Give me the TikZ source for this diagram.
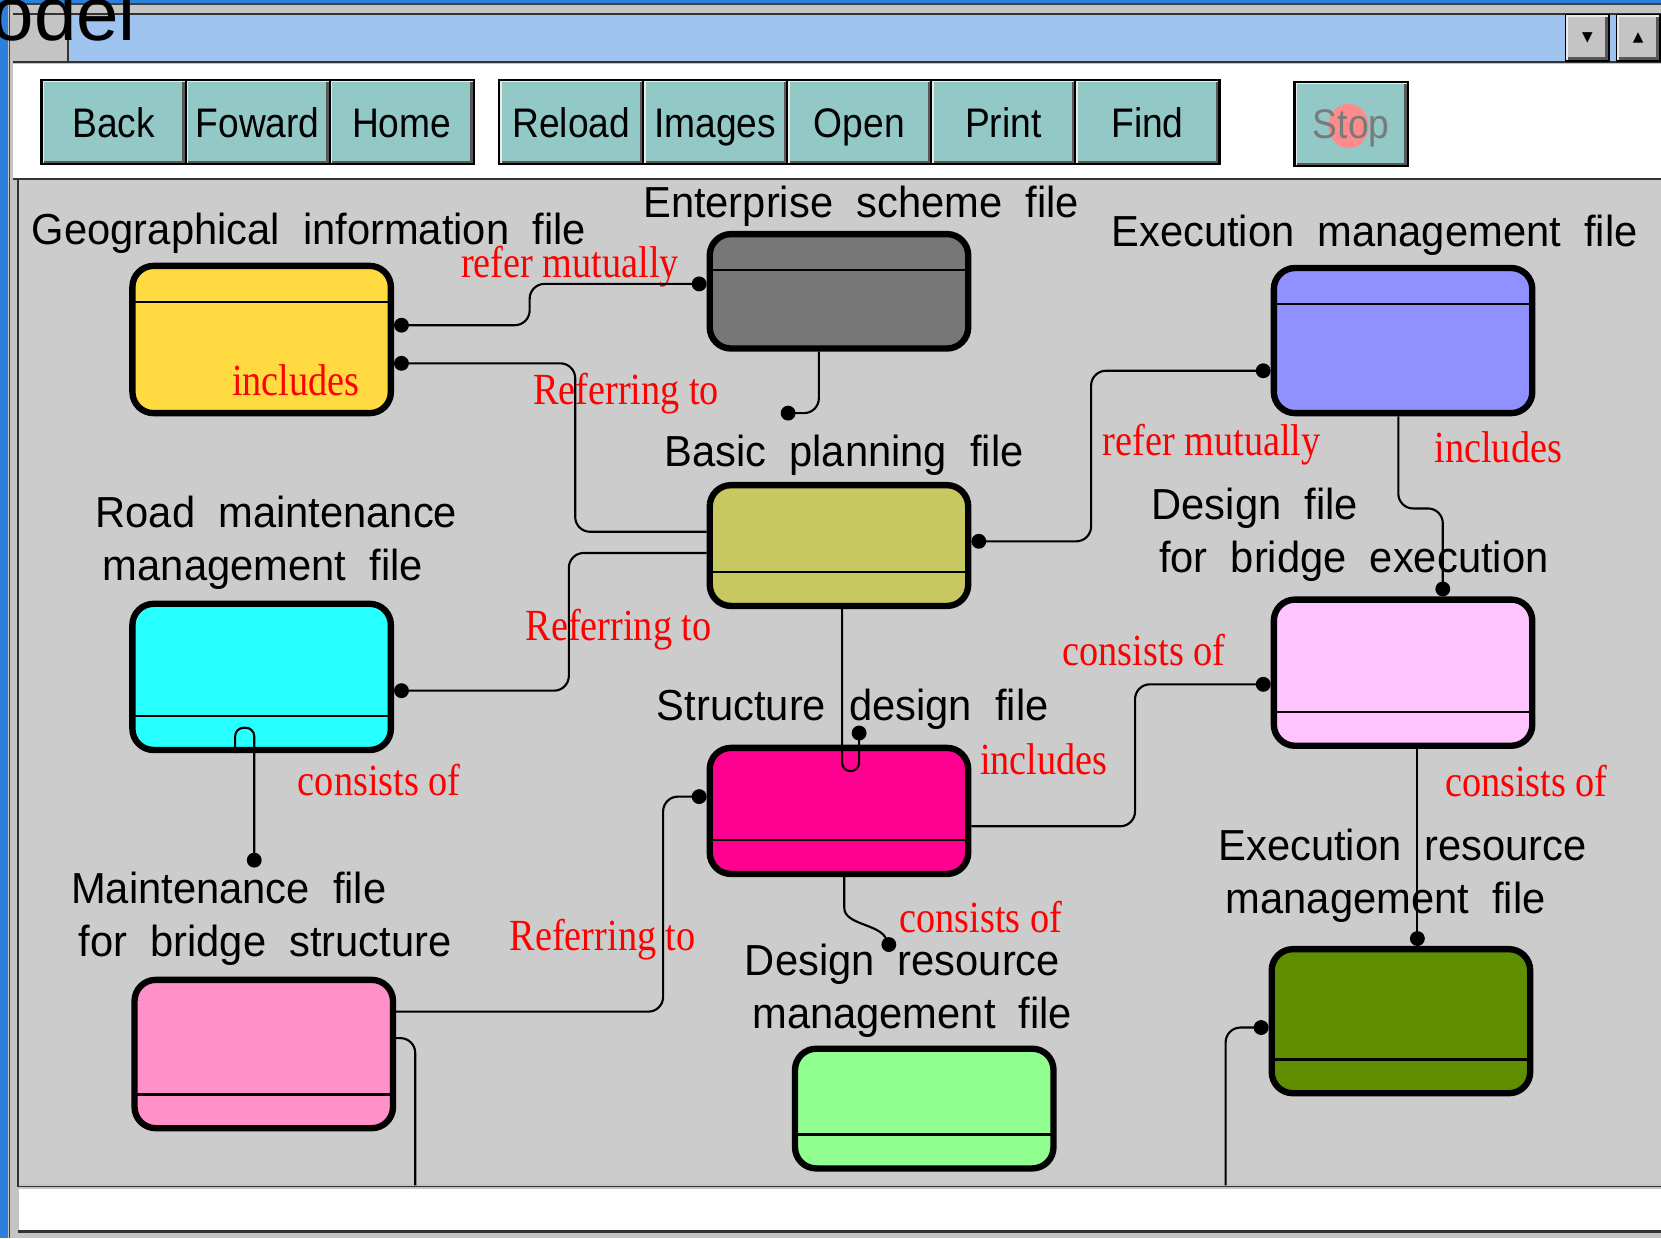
\documentclass[tikz,border=0pt]{standalone}
\usepackage{fontspec}
\usepackage{xcolor}
\usepackage{tikz}
\usetikzlibrary{matrix,arrows.meta}
\newfontfamily\uifont[FakeStretch=0.96,WordSpace=2]{Liberation Sans}
\newfontfamily\btnfont[FakeStretch=0.9]{Liberation Sans}
\newfontfamily\relfont[FakeStretch=0.86]{Liberation Serif}
\newfontfamily\bigfont{Liberation Sans}
\newfontfamily\symfont{DejaVu Sans}
\definecolor{winblue}{HTML}{2B80DB}
\definecolor{titleblue}{HTML}{9DC3EE}
\definecolor{framegrey}{HTML}{C4C4C4}
\definecolor{canvasgrey}{HTML}{CCCCCC}
\definecolor{btnteal}{HTML}{92C8C6}
\definecolor{bevlight}{HTML}{EAEAEA}
\definecolor{bevdark}{HTML}{585858}
\definecolor{stoppink}{HTML}{FF8C8C}
\definecolor{stopgrey}{HTML}{7A7A7A}
\definecolor{relred}{HTML}{FF0000}
\definecolor{geoyellow}{HTML}{FFDA40}
\definecolor{entgrey}{HTML}{777777}
\definecolor{exmblue}{HTML}{9090FF}
\definecolor{basolive}{HTML}{C8C860}
\definecolor{roadcyan}{HTML}{28FFFF}
\definecolor{dsgpink}{HTML}{FFC4FF}
\definecolor{strmag}{HTML}{FF0090}
\definecolor{mntpink}{HTML}{FF90C8}
\definecolor{drmgreen}{HTML}{90FF90}
\definecolor{ermgreen}{HTML}{5F8E00}

\begin{document}
\begin{tikzpicture}[x=1pt, y=-1pt,
  bevel/.style={path picture={
    \draw[line width=7pt, bevdark] (path picture bounding box.south west) -- (path picture bounding box.south east) -- (path picture bounding box.north east);
    \draw[line width=5pt, bevlight] (path picture bounding box.south west) -- (path picture bounding box.north west) -- (path picture bounding box.north east);}},
  tbbtn/.style={bevel, draw=black, line width=2pt, fill=btnteal, minimum width=136pt, minimum height=80pt, inner sep=0pt, text height=36pt, text depth=6pt, font=\btnfont\fontsize{39}{40}\selectfont},
  scrollbtn/.style={bevel, draw=black, line width=1.5pt, fill=framegrey, minimum width=41pt, minimum height=44pt, inner sep=0pt, font=\symfont\fontsize{13}{13}\selectfont},
  filebox/.style={draw=black, line width=6pt, rounded corners=20pt, minimum width=244pt, inner sep=0pt},
  topline/.style={filebox, path picture={\draw[line width=2.5pt] ([yshift=-34pt]path picture bounding box.north west) -- ([yshift=-34pt]path picture bounding box.north east);}},
  botline/.style={filebox, path picture={\draw[line width=2.5pt] ([yshift=32pt]path picture bounding box.south west) -- ([yshift=32pt]path picture bounding box.south east);}},
  filelbl/.style={font=\uifont\fontsize{41}{50}\selectfont, anchor=base west, inner sep=0pt, align=left},
  rellbl/.style={font=\relfont\fontsize{42}{44}\selectfont, text=relred, anchor=base west, inner sep=0pt},
  link/.style={line width=2pt, rounded corners=14pt},
  dotend/.style={link, -{Circle[length=14pt]}},
  dotstart/.style={link, {Circle[length=14pt]}-},
  dotboth/.style={link, {Circle[length=14pt]}-{Circle[length=14pt]}}]
\useasboundingbox (0,0) rectangle (1568,1169);
% window frame
\fill[winblue] (0,0) rectangle (1568,1169);
\fill[framegrey] (8,3) rectangle (1568,1169);
\draw[line width=1.5pt, black!75] (9,3) -- (9,1169) (8,4) -- (1568,4);
\fill[titleblue] (12,13) rectangle (1568,58);
\fill[framegrey] (12,13) rectangle (64,58);
\draw[line width=1.5pt, black!80] (12,13) -- (1568,13) (12,58.5) -- (1568,58.5) (64,13) -- (64,58);
\fill[white] (12,60) rectangle (1568,168);
\draw[line width=2pt, black!80] (12,169) -- (1568,169);
\fill[canvasgrey] (18,170) rectangle (1568,1118);
\draw[line width=1.5pt, black!80] (17,170) -- (17,1120) -- (1568,1120);
\fill[white] (18,1122) rectangle (1568,1161);
\draw[line width=2pt, black!80] (17,1162.5) -- (1568,1162.5);
\node[font=\bigfont\fontsize{72}{72}\selectfont, anchor=base west, inner sep=0pt] (wintitle) at (-8,38) {odel};
\node[scrollbtn] (downbtn) at (1498.5,35.5) {▼};
\node[scrollbtn] (upbtn) at (1546.5,35.5) {▲};

% toolbar
\matrix[matrix of nodes, nodes={tbbtn}, column sep=-2pt, inner sep=0pt, anchor=north west] (navbtns) at (38,74) {
 Back & Foward & Home \\
};
\matrix[matrix of nodes, nodes={tbbtn}, column sep=-2pt, inner sep=0pt, anchor=north west] (filebtns) at (470,74) {
 Reload & Images & Open & Print & Find \\
};
\node[tbbtn, minimum width=107pt] (stopbtn) at (1275.5,117) {};
\fill[stoppink] (1273,119) ellipse [x radius=19, y radius=21];
\node[font=\btnfont\fontsize{39}{40}\selectfont, text=stopgrey, inner sep=0pt, anchor=base] (stoptxt) at ([yshift=-14pt]stopbtn.center) {Stop};

% files
\node[topline, fill=geoyellow, minimum height=139pt] (geo) at (247,320.5) {};
\node[topline, fill=entgrey, minimum height=108pt] (ent) at (792,275) {};
\node[topline, fill=exmblue, minimum height=137pt] (exm) at (1324.5,321.5) {};
\node[botline, fill=basolive, minimum height=114pt] (bas) at (792,515) {};
\node[botline, fill=roadcyan, minimum height=138pt] (road) at (247,639) {};
\node[botline, fill=dsgpink, minimum height=138pt] (dsg) at (1324.5,635) {};
\node[botline, fill=strmag, minimum height=119pt] (str) at (792,765.5) {};
\node[botline, fill=mntpink, minimum height=140pt] (mnt) at (249,995) {};
\node[botline, fill=drmgreen, minimum height=113pt] (drm) at (872.5,1046.5) {};
\node[botline, fill=ermgreen, minimum height=136pt] (erm) at (1322.5,964) {};

% names (multi-line names sit on their last baseline)
\node[filelbl] (geolbl) at (30,231) {Geographical information file};
\node[filelbl] (entlbl) at (607,205) {Enterprise scheme file};
\node[filelbl] (exmlbl) at (1049,233) {Execution management file};
\node[filelbl] (baslbl) at (627,440) {Basic planning file};
\node[filelbl] (roadlbl) at (90,548) {Road maintenance\\\hspace*{7pt}management file};
\node[filelbl] (dsglbl) at (1087,540) {Design file\\\hspace*{7pt}for bridge execution};
\node[filelbl] (strlbl) at (620,680) {Structure design file};
\node[filelbl] (mntlbl) at (67,903) {Maintenance file\\\hspace*{7pt}for bridge structure};
\node[filelbl] (drmlbl) at (703,971) {Design resource\\\hspace*{7pt}management file};
\node[filelbl] (ermlbl) at (1150,862) {Execution resource\\\hspace*{7pt}management file};

\node[rellbl] (rel1) at (435,262) {refer mutually};
\node[rellbl] (rel2) at (219,373) {includes};
\node[rellbl] (rel3) at (503,382) {Referring to};
\node[rellbl] (rel4) at (1041,430) {refer mutually};
\node[rellbl] (rel5) at (1354,437) {includes};
\node[rellbl] (rel6) at (496,605) {Referring to};
\node[rellbl] (rel7) at (1003,628) {consists of};
\node[rellbl] (rel8) at (925,731) {includes};
\node[rellbl] (rel9) at (281,751) {consists of};
\node[rellbl] (rel10) at (1364,752) {consists of};
\node[rellbl] (rel11) at (481,897) {Referring to};
\node[rellbl] (rel12) at (849,880) {consists of};

% links
\coordinate (entend) at (737,390);
\coordinate (strend) at (811,685);
\coordinate (mntend) at (240,819);
\coordinate (drmend) at (842,898);
\coordinate (mntoff) at (392,1119);
\coordinate (ermoff) at (1157,1119);
\draw[dotboth] ([yshift=13.5pt]geo.east) -- ++(128,0) |- ([yshift=7pt]ent.west);
\draw[dotstart] ([yshift=-22.5pt]geo.east) -- ++(171,0) |- ([yshift=13pt]bas.west);
\draw[dotend] ([xshift=-19pt]ent.south) |- (entend);
\draw[dotend] ([yshift=-7pt]bas.west) -- ++(-130,0) |- ([yshift=-13pt]road.east);
\draw[dotboth] ([yshift=4pt]bas.east) -- ++(113,0) |- ([yshift=-28.5pt]exm.west);
\draw[dotend] ([xshift=-4.5pt]exm.south) -- ++(0,87) -| ([xshift=37.5pt]dsg.north);
\draw[dotend, rounded corners=8pt] ([xshift=3pt]bas.south) -- ++(0,153) -- ++(16,0) -- (strend);
\draw[dotend, rounded corners=8pt] ([xshift=-25pt]road.south) -- ++(0,-24) -- ++(18,0) -- (mntend);
\draw[dotstart] ([yshift=-11pt]dsg.west) -- ++(-128,0) |- ([yshift=-14.5pt]str.east);
\draw[dotend] ([xshift=13.5pt]dsg.south) -- ++(0,186);
\draw[dotend] ([xshift=5pt]str.south) -- ++(0,15) .. controls +(0,30) and +(-12,-26) .. (drmend);
\draw[dotend] ([yshift=40pt]mnt.east) -- ++(252,0) |- ([yshift=13.5pt]str.west);
\draw[link] ([yshift=15pt]mnt.east) -| (mntoff);
\draw[dotstart] ([yshift=-6pt]erm.west) -| (ermoff);
\end{tikzpicture}
\end{document}
